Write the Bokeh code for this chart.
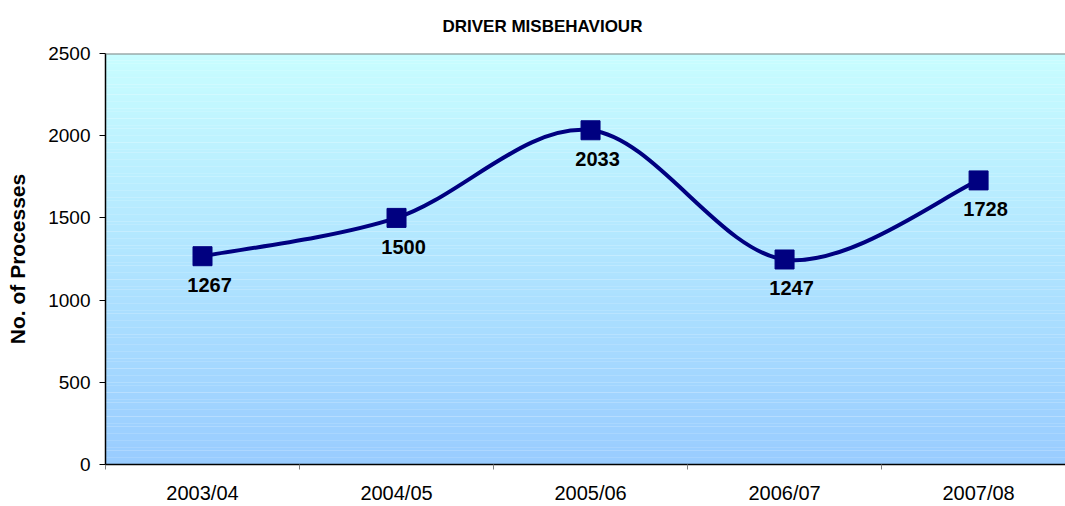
from bokeh.plotting import figure
from bokeh.models import FixedTicker, Range1d, Span, ColumnDataSource
from bokeh.embed import file_html
from bokeh.resources import INLINE
from bokeh.core.properties import value

# ---- data ----
categories = ["2003/04", "2004/05", "2005/06", "2006/07", "2007/08"]
processes = [1267, 1500, 2033, 1247, 1728]
y_ticks = [0, 500, 1000, 1500, 2000, 2500]
title_text = "DRIVER MISBEHAVIOUR"
y_label = "No. of Processes"

FONT = "Liberation Sans"
NAVY = "#000080"
X_END = 4.448

xs = list(range(len(categories)))

p = figure(width=1065, height=506, output_backend="svg", toolbar_location=None,
           x_range=Range1d(-0.5, X_END), y_range=Range1d(0, 2500),
           min_border_left=105, min_border_right=0, min_border_top=53, min_border_bottom=41,
           background_fill_color="white", border_fill_color="white")
p.outline_line_color = None
p.xgrid.grid_line_color = None
p.ygrid.grid_line_color = None

# gradient background (light cyan at top to light blue at bottom)
n = 120
top_c = (200, 253, 255)
bot_c = (153, 204, 255)
bottoms, tops, cols = [], [], []
for i in range(n):
    t0 = i / n
    t1 = (i + 1) / n
    bottoms.append(2500 * t0)
    tops.append(2500 * t1 + 1)
    f = (t0 + t1) / 2
    r = round(bot_c[0] + (top_c[0] - bot_c[0]) * f)
    g = round(bot_c[1] + (top_c[1] - bot_c[1]) * f)
    b = round(bot_c[2] + (top_c[2] - bot_c[2]) * f)
    cols.append("#%02x%02x%02x" % (r, g, b))
p.quad(left=-0.5, right=X_END, bottom=bottoms, top=tops, fill_color=cols, line_color=None)

p.add_layout(Span(location=2500, dimension="width", line_color="#808080", line_width=2))

# smoothed line (Catmull-Rom style Bezier like spreadsheet smoothing)
pts = list(zip(xs, processes))
x0s, y0s, x1s, y1s, cx0s, cy0s, cx1s, cy1s = [], [], [], [], [], [], [], []
for i in range(len(pts) - 1):
    p0 = pts[i - 1] if i > 0 else pts[i]
    p1 = pts[i]
    p2 = pts[i + 1]
    p3 = pts[i + 2] if i + 2 < len(pts) else pts[i + 1]
    x0s.append(p1[0]); y0s.append(p1[1])
    x1s.append(p2[0]); y1s.append(p2[1])
    cx0s.append(p1[0] + (p2[0] - p0[0]) / 6); cy0s.append(p1[1] + (p2[1] - p0[1]) / 6)
    cx1s.append(p2[0] - (p3[0] - p1[0]) / 6); cy1s.append(p2[1] - (p3[1] - p1[1]) / 6)
p.bezier(x0=x0s, y0=y0s, x1=x1s, y1=y1s, cx0=cx0s, cy0=cy0s, cx1=cx1s, cy1=cy1s,
         line_color=NAVY, line_width=4)

src = ColumnDataSource(dict(x=xs, y=processes, lab=[str(v) for v in processes]))
p.scatter("x", "y", source=src, marker="square", size=19, fill_color=NAVY, line_color=NAVY)
p.text("x", "y", text="lab", source=src, text_align="center", text_baseline="middle",
       x_offset=7, y_offset=29, text_font=value(FONT), text_font_size="20px",
       text_font_style="bold", text_color="black")

# axes
xa = p.xaxis[0]
xa.ticker = FixedTicker(ticks=xs, minor_ticks=[i - 0.5 for i in range(len(categories) + 1)])
xa.major_label_overrides = {i: c for i, c in enumerate(categories)}
xa.major_tick_line_color = None
xa.major_tick_out = 0
xa.major_tick_in = 0
xa.minor_tick_line_color = "#808080"
xa.minor_tick_out = 5
xa.minor_tick_in = 0
xa.axis_line_color = "black"
xa.axis_line_width = 1.5
xa.major_label_text_font = FONT
xa.major_label_text_font_size = "20px"
xa.major_label_text_color = "black"
xa.major_label_standoff = 12

ya = p.yaxis[0]
ya.ticker = FixedTicker(ticks=y_ticks)
ya.minor_tick_line_color = None
ya.major_tick_out = 6
ya.major_tick_in = 0
ya.major_tick_line_color = "black"
ya.axis_line_color = "black"
ya.axis_line_width = 1.5
ya.major_label_text_font = FONT
ya.major_label_text_font_size = "19px"
ya.major_label_text_color = "black"
ya.major_label_standoff = 9
ya.axis_label = y_label
ya.axis_label_text_font = FONT
ya.axis_label_text_font_size = "21px"
ya.axis_label_text_font_style = "bold"
ya.axis_label_text_color = "black"
ya.axis_label_standoff = 16

p.title.text = title_text
p.title.align = "left"
p.title.offset = 337
p.title.standoff = 31
p.title.vertical_align = "top"
p.title.text_font = FONT
p.title.text_font_size = "17px"
p.title.text_font_style = "bold"
p.title.text_color = "black"

open("out.html", "w").write(file_html(p, INLINE))
